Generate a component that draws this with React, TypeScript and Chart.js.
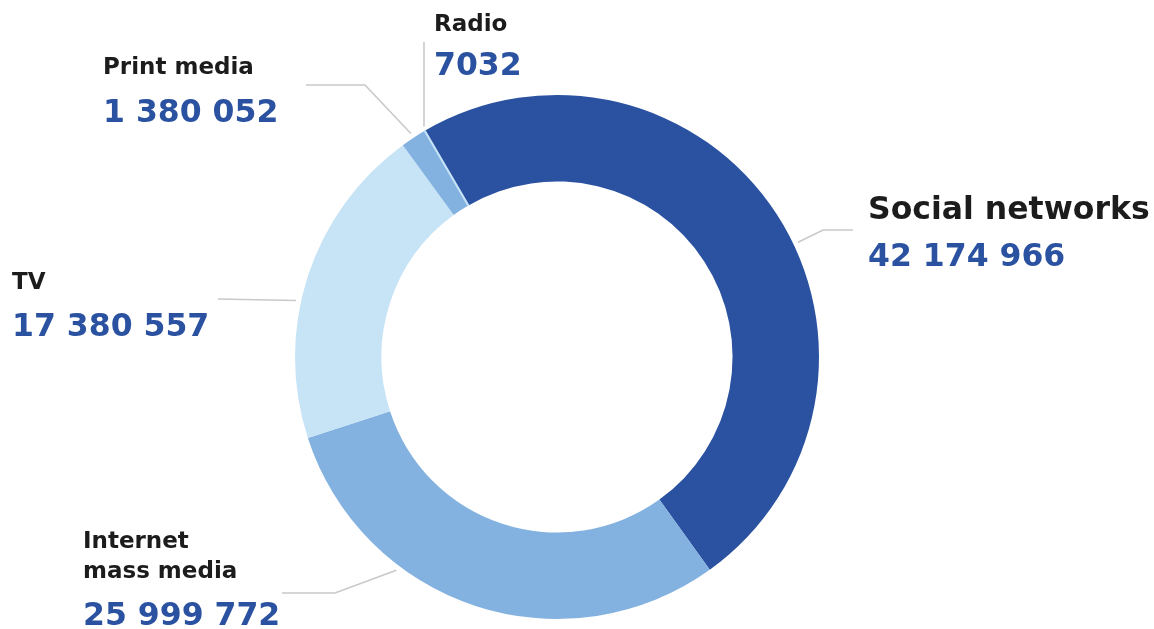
import React, { useEffect, useRef } from "react";
import { Chart, registerables } from "chart.js";

Chart.register(...registerables);

const categories = ["Social networks", "Internet mass media", "TV", "Print media", "Radio"];
const labelLines = [["Social networks"], ["Internet", "mass media"], ["TV"], ["Print media"], ["Radio"]];
const values = [42174966, 25999772, 17380557, 1380052, 7032];
const valueLabels = ["42 174 966", "25 999 772", "17 380 557", "1 380 052", "7032"];
const colors = ["#2b52a0", "#84b2e0", "#c7e4f7", "#84b2e0", "#c7e4f7"];

// label layout (style): text x, label baselines, value baseline, label font size, leader anchor fraction, leader path points
const layout = [
  { x: 868, labelY: [219], valueY: 266, labelSize: 31.5, frac: 0.543, path: [[823, 230], [853, 230]] },
  { x: 83, labelY: [548, 578], valueY: 625, labelSize: 23, frac: 0.675, path: [[335, 593], [282, 593]] },
  { x: 12, labelY: [289], valueY: 336, labelSize: 23, frac: 0.42, path: [[218, 299]] },
  { x: 103, labelY: [74], valueY: 122, labelSize: 23, frac: 0.5, path: [[365, 85], [306, 85]] },
  { x: 434, labelY: [31], valueY: 75, labelSize: 23, frac: 0.5, path: [[424, 42]] },
];

const FONT = '"DejaVu Sans", sans-serif';

const labelPlugin = {
  id: "leaderLabels",
  afterDatasetsDraw(chart: any) {
    const ctx = chart.ctx;
    const meta = chart.getDatasetMeta(0);
    ctx.save();
    meta.data.forEach((arc: any, i: number) => {
      const p = arc.getProps(["x", "y", "startAngle", "endAngle", "outerRadius"], true);
      const L = layout[i];
      const a = p.startAngle + (p.endAngle - p.startAngle) * L.frac;
      const r = p.outerRadius + 5;
      let sx = p.x + Math.cos(a) * r;
      const sy = p.y + Math.sin(a) * r;
      if (L.path.length === 1 && i === 4) sx = L.path[0][0];
      ctx.beginPath();
      ctx.strokeStyle = "#c9c9c9";
      ctx.lineWidth = 1.6;
      ctx.moveTo(sx, sy);
      L.path.forEach(([px, py]) => ctx.lineTo(px, py));
      ctx.stroke();

      ctx.textAlign = "left";
      ctx.textBaseline = "alphabetic";
      ctx.fillStyle = "#1c1c1c";
      ctx.font = `bold ${L.labelSize}px ${FONT}`;
      labelLines[i].forEach((t, k) => ctx.fillText(t, L.x, L.labelY[k]));
      ctx.fillStyle = "#2b52a0";
      ctx.font = `bold 31.5px ${FONT}`;
      ctx.fillText(valueLabels[i], L.x, L.valueY);
    });
    ctx.restore();
  },
};

export default function App() {
  const ref = useRef<HTMLCanvasElement>(null);
  useEffect(() => {
    if (!ref.current) return;
    const chart = new Chart(ref.current, {
      type: "doughnut",
      data: {
        labels: categories,
        datasets: [
          {
            data: values,
            backgroundColor: colors,
            borderColor: ["#ffffff", "#ffffff", "#ffffff", "#ffffff", "#c7e4f7"],
            borderWidth: [0, 0, 0, 0, 2],
            hoverBorderWidth: 0,
            hoverOffset: 0,
          },
        ],
      },
      options: {
        responsive: false,
        animation: false,
        events: [],
        rotation: -30.3,
        cutout: "67%",
        layout: { padding: { top: 94, bottom: 9, left: 294, right: 334 } },
        plugins: { legend: { display: false }, tooltip: { enabled: false } },
      },
      plugins: [labelPlugin],
    });
    return () => chart.destroy();
  }, []);
  return (
    <div style={{ position: "fixed", left: 0, top: 0, width: 1154, height: 629, background: "#fff" }}>
      <canvas ref={ref} width={1154} height={629} />
    </div>
  );
}
